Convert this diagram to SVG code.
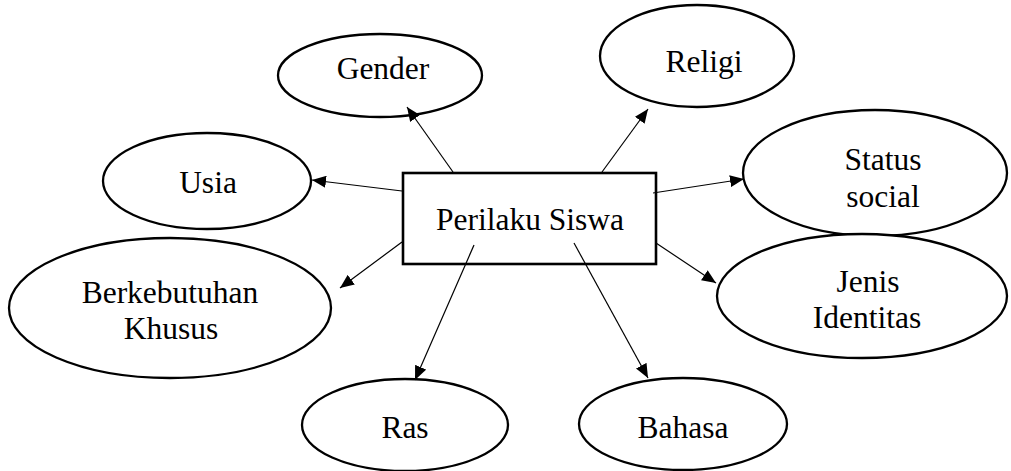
<svg xmlns="http://www.w3.org/2000/svg" width="1011" height="471" viewBox="0 0 1011 471">
<defs>
<marker id="ah" markerUnits="userSpaceOnUse" markerWidth="15" markerHeight="12" refX="14" refY="6" orient="auto">
<path d="M0,0 L14,6 L0,12 z" fill="#000" stroke="none"/>
</marker>
</defs>
<rect width="1011" height="471" fill="#fff"/>
<g id="nodes" font-family="Times New Roman, Liberation Serif, Tinos, serif" font-size="31.5" text-anchor="middle">
<g id="gender"><ellipse cx="380" cy="75.5" rx="102" ry="41.5" fill="#fff" stroke="#000" stroke-width="2.3"/><text x="383" y="79">Gender</text></g>
<g id="religi"><ellipse cx="697" cy="56" rx="97" ry="51" fill="#fff" stroke="#000" stroke-width="2.3"/><text x="704" y="72">Religi</text></g>
<g id="usia"><ellipse cx="207" cy="181" rx="104" ry="48" fill="#fff" stroke="#000" stroke-width="2.3"/><text x="208" y="193">Usia</text></g>
<g id="status"><ellipse cx="875" cy="173" rx="132" ry="63" fill="#fff" stroke="#000" stroke-width="2.3"/><text x="883" y="170">Status</text><text x="883" y="207">social</text></g>
<g id="jenis"><ellipse cx="862" cy="296" rx="145" ry="62" fill="#fff" stroke="#000" stroke-width="2.3"/><text x="868" y="292">Jenis</text><text x="867" y="328">Identitas</text></g>
<g id="berkebutuhan"><ellipse cx="170" cy="308" rx="161" ry="70" fill="#fff" stroke="#000" stroke-width="2.3"/><text x="170" y="303">Berkebutuhan</text><text x="171" y="339">Khusus</text></g>
<g id="ras"><ellipse cx="405" cy="425" rx="103" ry="46" fill="#fff" stroke="#000" stroke-width="2.3"/><text x="405" y="438">Ras</text></g>
<g id="bahasa"><ellipse cx="683" cy="424" rx="104" ry="46" fill="#fff" stroke="#000" stroke-width="2.3"/><text x="683" y="438">Bahasa</text></g>
<g id="perilaku"><rect x="403" y="173" width="253" height="91" fill="#fff" stroke="#000" stroke-width="2.6"/><text x="530" y="230">Perilaku Siswa</text></g>
</g>
<g id="connectors" stroke="#000" stroke-width="1.2" fill="none" marker-end="url(#ah)">
<line x1="453" y1="172" x2="407" y2="107"/>
<line x1="602" y1="172" x2="648" y2="109"/>
<line x1="402" y1="191" x2="312" y2="180"/>
<line x1="402" y1="242" x2="340" y2="288"/>
<line x1="653" y1="193" x2="744" y2="179"/>
<line x1="656" y1="243" x2="716" y2="283"/>
<line x1="474" y1="245" x2="415" y2="380"/>
<line x1="574" y1="243" x2="648" y2="378"/>
</g>
</svg>
